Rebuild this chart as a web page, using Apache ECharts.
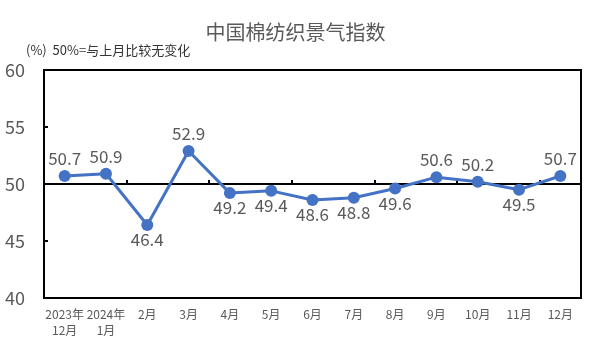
<!DOCTYPE html>
<html><head><meta charset="utf-8">
<script src="https://cdn.jsdelivr.net/npm/echarts@6/dist/echarts.min.js"></script>
<style>html,body{margin:0;padding:0;background:#fff}#c{width:591px;height:354px}</style>
</head><body><div id="c"></div>
<script>
const categories = ['2023年\n12月','2024年\n1月','2月','3月','4月','5月','6月','7月','8月','9月','10月','11月','12月'];
const values = [50.7,50.9,46.4,52.9,49.2,49.4,48.6,48.8,49.6,50.6,50.2,49.5,50.7];
const yTicks = [40,45,50,55,60];
const labelPos = values.map(v => v >= 50 ? 'top' : 'bottom');

const chart = echarts.init(document.getElementById('c'));
const font = '"Noto Sans CJK SC", "Liberation Sans", sans-serif';
chart.setOption({
  animation:false,
  title:[{text:'中国棉纺织景气指数',left:'center',top:17,textStyle:{fontFamily:font,fontSize:20,fontWeight:'normal',color:'#595959'}},
         {text:'(%)  50%=与上月比较无变化',left:21,top:39,textStyle:{fontFamily:font,fontSize:13,fontWeight:'normal',color:'#333'}}],
  grid:{left:44,right:10,top:70,bottom:56,show:true,borderColor:'#000',borderWidth:2,containLabel:false},
  xAxis:[{type:'category',data:categories,boundaryGap:true,position:'bottom',
    axisLine:{show:false},axisTick:{show:false},
    axisLabel:{interval:0,fontFamily:font,fontSize:12,color:'#595959',margin:8,lineHeight:16}},
    {type:'category',data:categories,boundaryGap:true,position:'bottom',offset:-114,
    axisLine:{show:true,lineStyle:{color:'#000',width:2}},axisTick:{show:true,inside:true,length:4,lineStyle:{color:'#000',width:2}},
    axisLabel:{show:false}}],
  yAxis:{type:'value',min:yTicks[0],max:yTicks[yTicks.length-1],interval:5,
    axisLine:{show:false},axisTick:{show:true,inside:true,length:4,lineStyle:{color:'#000',width:2}},splitLine:{show:false},
    axisLabel:{fontFamily:font,fontSize:18,color:'#595959',margin:19}},
  series:[{type:'line',xAxisIndex:0,data:values.map((v,i)=>({value:v,label:{position:labelPos[i],distance:labelPos[i]==='top'?3:0}})),
    symbol:'circle',symbolSize:12,
    lineStyle:{color:'#4472C4',width:3},itemStyle:{color:'#4472C4'},
    label:{show:true,fontFamily:font,fontSize:17,color:'#595959',formatter:p=>p.value.toFixed(1)}}]
});
</script></body></html>
